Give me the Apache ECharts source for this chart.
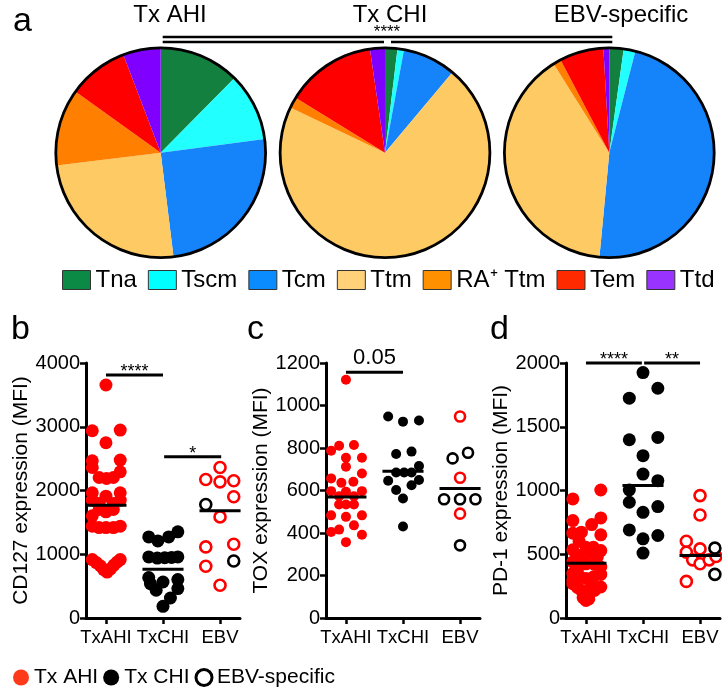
<!DOCTYPE html>
<html><head><meta charset="utf-8">
<script src="https://cdn.jsdelivr.net/npm/echarts@6/dist/echarts.min.js"></script>
<style>html,body{margin:0;padding:0;background:#fff}#c{width:722px;height:690px}</style>
</head><body><div id="c"></div>
<script>
// ---------- DATA ----------
const subsetNames = ['Tna','Tscm','Tcm','Ttm','RA\u207A Ttm','Tem','Ttd'];
const pieGroups = ['Tx AHI','Tx CHI','EBV-specific'];
const pieAHI = [12.4,10.5,25.1,25.0,11.8,9.3,5.8];
const pieCHI = [1.9,1.0,8.2,70.9,1.7,13.9,2.3];
const pieEBV = [2.2,1.8,47.5,39.6,1.2,6.8,0.9];
const pieSig = '****';

const xCats = ['TxAHI','TxCHI','EBV'];
const yTitles = ['CD127 expression (MFI)','TOX expression (MFI)','PD-1 expression (MFI)'];
const yMax = [4000,1200,2000];
const yStep = [1000,200,500];

// [jitter offset from category, value]
const bAHI = [[0,3655],[-0.24,2937],[0.25,2948],[0,2749],[-0.24,2466],[0.25,2477],[-0.24,2361],[0.25,2293],[-0.12,2204],[0.01,2189],[0.13,2204],[-0.24,1963],[0.25,1963],[0,1911],[-0.24,1848],[0.25,1848],[-0.12,1796],[0.13,1796],[-0.12,1702],[0,1665],[0.13,1702],[-0.24,1602],[-0.24,1440],[-0.12,1419],[0,1419],[0.13,1419],[0.25,1440],[-0.24,916],[-0.17,870],[-0.1,820],[-0.04,760],[0.02,720],[0.08,770],[0.14,830],[0.2,880],[0.25,916]];
const bCHI = [[-0.25,1272],[-0.09,1209],[0.1,1272],[0.26,1351],[-0.25,958],[-0.1,940],[0.03,945],[0.15,950],[0.26,958],[-0.25,634],[0,565],[0.26,602],[-0.22,539],[-0.12,435],[0.26,461],[0.13,314],[0,183]];
const bEBVred = [[0,2361],[-0.25,2173],[0,2136],[0.24,2152],[0.24,1901],[0,1586],[-0.25,1115],[0.24,1157],[-0.25,812],[0,513]];
const bEBVblack = [[-0.25,1780],[0.24,895]];
const bMedian = [1770,764,1681];
const bSig = [[0,1,3810,'****'],[1.02,2.02,2530,'*']];

const cAHI = [[0,1121],[-0.26,787],[-0.12,811],[0.14,814],[0.28,754],[0,754],[0,712],[-0.26,657],[0.28,680],[-0.08,636],[0.13,641],[-0.26,597],[0,594],[0.28,597],[-0.12,573],[0.14,573],[-0.12,534],[0,534],[0.14,534],[-0.26,483],[0.28,483],[0,476],[0.14,436],[-0.12,416],[-0.26,405],[0.28,392],[0,357]];
const cCHI = [[-0.26,948],[0,924],[0.28,929],[-0.12,772],[0.15,783],[0.28,715],[-0.12,685],[0.02,685],[0.15,685],[-0.26,646],[0.28,649],[-0.12,602],[0.15,625],[0,562],[0,431]];
const cEBVred = [[0,948],[0,660],[0,491]];
const cEBVblack = [[-0.13,751],[0.14,778],[-0.28,559],[0,559],[0.27,559],[0,342]];
const cMedian = [570,691,609];
const cSig = [[0,1,1156,'0.05']];

const dAHI = [[0.26,1004],[-0.23,934],[-0.23,764],[0.26,785],[0.1,733],[-0.23,665],[-0.08,673],[0.26,652],[-0.12,602],[0,555],[0.13,555],[-0.23,535],[0.26,529],[0.05,508],[-0.12,490],[0.2,480],[-0.23,440],[0,425],[-0.1,415],[0.15,420],[0.26,400],[-0.23,350],[0.26,342],[-0.12,330],[0.13,321],[-0.23,300],[0,310],[-0.23,269],[0.26,243],[-0.15,240],[0.1,250],[-0.08,216],[0.15,216],[0,185],[-0.05,160],[0.05,150],[0,138]];
const dCHI = [[0,1925],[0.26,1802],[-0.24,1724],[-0.24,1398],[0.26,1416],[0,1273],[0,1129],[0.26,1077],[-0.24,1004],[-0.24,908],[0.26,874],[0,829],[-0.24,691],[0.26,647],[0,621],[0,509]];
const dEBVred = [[0,960],[0,808],[-0.24,602],[0,542],[-0.24,516],[-0.13,456],[0,425],[0.16,456],[0.28,482],[-0.24,287]];
const dEBVblack = [[0.26,548],[0.26,342]];
const dMedian = [430,1040,490];
const dSig = [[0,0.98,2000,'****'],[1.02,2,2000,'**']];

const legendGroups = ['Tx AHI','Tx CHI','EBV-specific'];

// ---------- STYLE / LAYOUT ----------
const FONT = "'Liberation Sans', Arial, sans-serif";
const pieColors = ['#138040','#22ffff','#1584fb','#fdca64','#ff8000','#ff0000','#8000ff'];
const legendColors = ['#0a8a45','#00ffff','#0a8cff','#ffd27a','#ff9000','#ff2a00','#9933ff'];
const pieCenters = [[160.7,152.7],[385,152.7],[609.3,152.7]];
const pieR = 105;
const grids = [{left:86},{left:326},{left:566}].map(g=>({left:g.left, top:363, width:154, height:255}));
const RED = '#ff0000';

const chart = echarts.init(document.getElementById('c'), null, {renderer:'canvas'});

const pieSeries = [];
[pieAHI,pieCHI,pieEBV].forEach((vals,i)=>{
  pieSeries.push({
    type:'pie', center:pieCenters[i], radius:pieR, startAngle:90, clockwise:true,
    silent:true, label:{show:false}, labelLine:{show:false}, animation:false,
    data: vals.map((v,k)=>({name:subsetNames[k], value:v, itemStyle:{color:pieColors[k]}}))
  });
  pieSeries.push({
    type:'pie', center:pieCenters[i], radius:[pieR-1.5, pieR+1.3], silent:true, z:3,
    label:{show:false}, labelLine:{show:false}, animation:false, legendHoverLink:false,
    data:[{name:'_ring'+i, value:1, itemStyle:{color:'#000'}}]
  });
});

function pts(arr, cat){ return arr.map(p=>[cat+p[0], p[1]]); }

const panels = [
  {ahi:bAHI, chi:bCHI, er:bEBVred, eb:bEBVblack, med:bMedian, sig:bSig, size:13, open:11},
  {ahi:cAHI, chi:cCHI, er:cEBVred, eb:cEBVblack, med:cMedian, sig:cSig, size:10, open:10},
  {ahi:dAHI, chi:dCHI, er:dEBVred, eb:dEBVblack, med:dMedian, sig:dSig, size:13, open:11}
];

const scatterSeries = [];
panels.forEach((p,i)=>{
  const base = {type:'scatter', xAxisIndex:i, yAxisIndex:i, animation:false, silent:true};
  scatterSeries.push(Object.assign({}, base, {name:legendGroups[0], symbolSize:p.size, itemStyle:{color:RED, opacity:1}, data:pts(p.ahi,0)}));
  scatterSeries.push(Object.assign({}, base, {name:legendGroups[1], symbolSize:p.size, itemStyle:{color:'#000', opacity:1}, data:pts(p.chi,1)}));
  scatterSeries.push(Object.assign({}, base, {name:legendGroups[2], symbolSize:p.open, itemStyle:{color:'#fff', borderColor:RED, borderWidth:2.6, opacity:1}, data:pts(p.er,2)}));
  scatterSeries.push(Object.assign({}, base, {name:legendGroups[2], symbolSize:p.open, itemStyle:{color:'#fff', borderColor:'#000', borderWidth:2.6, opacity:1}, data:pts(p.eb,2)}));
  scatterSeries.push({
    type:'custom', xAxisIndex:i, yAxisIndex:i, z:10, silent:true, animation:false,
    data:p.med.map((m,k)=>[k,m]),
    renderItem:(params, api)=>{
      const c = api.value(0), v = api.value(1);
      const a = api.coord([c-0.36, v]), b = api.coord([c+0.36, v]);
      return {type:'line', shape:{x1:a[0],y1:a[1],x2:b[0],y2:b[1]}, style:{stroke:'#000', lineWidth:3}};
    }
  });
  scatterSeries.push({
    type:'custom', xAxisIndex:i, yAxisIndex:i, z:10, silent:true, animation:false, clip:false,
    data:p.sig.map(s=>[s[0],s[1],s[2]]),
    renderItem:(params, api)=>{
      const idx = params.dataIndex;
      const lab = p.sig[idx][3];
      const a = api.coord([api.value(0), api.value(2)]), b = api.coord([api.value(1), api.value(2)]);
      const big = lab === '0.05';
      return {type:'group', children:[
        {type:'line', shape:{x1:a[0],y1:a[1],x2:b[0],y2:b[1]}, style:{stroke:'#000', lineWidth:3}},
        {type:'text', x:(a[0]+b[0])/2, y:a[1] + (big ? -3 : 6), style:{text:lab, fill:'#000', font:(big?'22px ':'18px ')+FONT, align:'center', verticalAlign:'bottom'}}
      ]};
    }
  });
});

const xAxes = grids.map((g,i)=>({
  gridIndex:i, type:'value', min:-0.35, max:2.35,
  splitLine:{show:false},
  axisLine:{show:true, onZero:false, lineStyle:{color:'#000', width:3}},
  axisTick:{show:true, customValues:[0,1,2], length:6, lineStyle:{color:'#000', width:2.5}},
  axisLabel:{customValues:[0,1,2], formatter:v=>xCats[Math.round(v)], fontSize:18.5, fontFamily:FONT, color:'#000', margin:10}
}));
const yAxes = grids.map((g,i)=>({
  gridIndex:i, type:'value', min:0, max:yMax[i], interval:yStep[i],
  name:yTitles[i], nameLocation:'middle', nameRotate:90, nameGap:i===0?52:46,
  nameTextStyle:{fontSize:21, fontFamily:FONT, color:'#000'},
  splitLine:{show:false},
  axisLine:{show:true, onZero:false, lineStyle:{color:'#000', width:3}},
  axisTick:{show:true, length:6, lineStyle:{color:'#000', width:2.5}},
  axisLabel:{fontSize:20, fontFamily:FONT, color:'#000', margin:6, formatter:v=>String(v)}
}));

// bracket lines above pies (derived from pie centres)
const ly1 = 37, ly2 = 42;
const c0 = pieCenters[0][0]+2, c1 = pieCenters[1][0], c2 = pieCenters[2][0]+3;
const graphics = [
  {type:'line', shape:{x1:c0,y1:ly1,x2:c2,y2:ly1}, style:{stroke:'#000', lineWidth:2.5}},
  {type:'line', shape:{x1:c0,y1:ly2,x2:c1-1,y2:ly2}, style:{stroke:'#000', lineWidth:2.5}},
  {type:'line', shape:{x1:c1+6,y1:ly2,x2:c2,y2:ly2}, style:{stroke:'#000', lineWidth:2.5}},
  {type:'text', x:c1+2, y:ly1+4, style:{text:pieSig, font:'17px '+FONT, fill:'#000', align:'center', verticalAlign:'bottom'}}
];

const titles = [
  {text:pieGroups[0], left:165, top:-2, textAlign:'center'},
  {text:pieGroups[1], left:385, top:-2, textAlign:'center'},
  {text:pieGroups[2], left:616, top:-2, textAlign:'center'}
].map(t=>Object.assign(t,{textStyle:{fontSize:24, fontWeight:'normal', fontFamily:FONT, color:'#000'}}));
['a','b','c','d'].forEach((l,i)=>{
  const pos = [[8,0],[6,308],[242,308],[485,308]][i];
  titles.push({text:l, left:pos[0], top:pos[1], textStyle:{fontSize:34, fontWeight:'normal', fontFamily:FONT, color:'#000'}});
});

const option = {
  animation:false,
  backgroundColor:'#fff',
  title: titles,
  legend:[
    {
      data: subsetNames.map((n,k)=>({name:n, icon:'rect', itemStyle:{color:legendColors[k], borderColor:'#333', borderWidth:1}})),
      left:57, top:263, itemWidth:28, itemHeight:19, itemGap:11, selectedMode:false,
      textStyle:{fontSize:24, fontFamily:FONT, color:'#000'}
    },
    {
      data:[
        {name:legendGroups[0], icon:'circle', itemStyle:{color:'#ff3a1a', borderWidth:0}},
        {name:legendGroups[1], icon:'circle', itemStyle:{color:'#000', borderWidth:0}},
        {name:legendGroups[2], icon:'circle', itemStyle:{color:'#fff', borderColor:'#000', borderWidth:3}}
      ],
      left:8, top:662, itemWidth:16, itemHeight:16, itemGap:5, selectedMode:false,
      textStyle:{fontSize:21, fontFamily:FONT, color:'#000'}
    }
  ],
  grid: grids,
  xAxis: xAxes,
  yAxis: yAxes,
  graphic: graphics,
  series: pieSeries.concat(scatterSeries)
};
chart.setOption(option);
</script></body></html>
